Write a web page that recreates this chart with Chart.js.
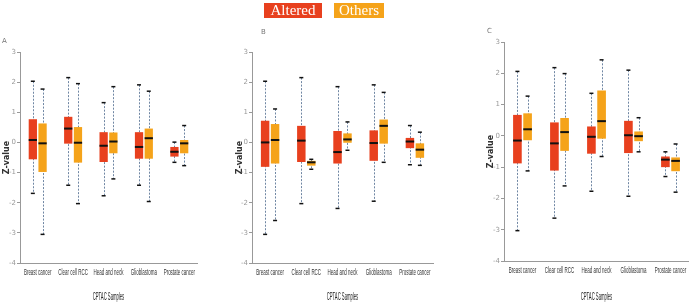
<!DOCTYPE html>
<html>
<head>
<meta charset="utf-8">
<script src="https://cdn.jsdelivr.net/npm/chart.js@4"></script>
<style>
  body { margin: 0; background: #fff; }
  #wrap { position: relative; width: 689px; height: 306px; overflow: hidden; }
  .panel { position: absolute; top: 0; height: 306px; }
  .tag { position: absolute; font: 7px "DejaVu Sans", sans-serif; color: #777; }
  .key { position: absolute; top: 3px; height: 15px; color: #fff; text-align: center;
         font: 15px "Liberation Serif", serif; line-height: 15px; }
</style>
</head>
<body>
<div id="wrap">
  <div class="panel" style="left:0;width:230px"><canvas id="chartA"></canvas></div>
  <div class="panel" style="left:230px;width:229px"><canvas id="chartB"></canvas></div>
  <div class="panel" style="left:459px;width:230px"><canvas id="chartC"></canvas></div>
  <div class="tag" style="left:2px;top:37px">A</div>
  <div class="tag" style="left:261px;top:28px">B</div>
  <div class="tag" style="left:487px;top:27px">C</div>
  <div class="key" style="left:264px;width:58px;background:#e8401e">Altered</div>
  <div class="key" style="left:334px;width:50px;background:#f5a31a">Others</div>
</div>
<script>
// categories + y range
const categories = ['Breast cancer', 'Clear cell RCC', 'Head and neck', 'Glioblastoma', 'Prostate cancer'];
const yTicks = [3, 2, 1, 0, -1, -2, -3, -4];
const xTitle = 'CPTAC Samples';

// each row: [min, q1, median, q3, max]
const alteredA = [
  [-1.69, -0.56, 0.08, 0.77, 2.03],
  [-1.42, -0.04, 0.46, 0.85, 2.15],
  [-1.77, -0.65, -0.11, 0.34, 1.32],
  [-1.42, -0.54, -0.15, 0.34, 1.91],
  [-0.66, -0.47, -0.31, -0.15, 0.01]
];
const othersA = [
  [-3.05, -0.98, -0.03, 0.63, 1.77],
  [-2.03, -0.67, -0.01, 0.51, 1.95],
  [-1.21, -0.36, 0.03, 0.33, 1.85],
  [-1.96, -0.54, 0.14, 0.46, 1.70],
  [-0.77, -0.36, -0.03, 0.08, 0.56]
];
const alteredB = [
  [-3.05, -0.81, 0.00, 0.72, 2.03],
  [-2.03, -0.65, 0.06, 0.55, 2.15],
  [-2.19, -0.70, -0.32, 0.38, 1.85],
  [-1.95, -0.61, -0.02, 0.40, 1.91],
  [-0.74, -0.19, 0.03, 0.15, 0.56]
];
const othersB = [
  [-2.59, -0.70, 0.08, 0.61, 1.11],
  [-0.89, -0.77, -0.66, -0.61, -0.56],
  [-0.26, -0.01, 0.10, 0.30, 0.68],
  [-0.66, -0.04, 0.55, 0.76, 1.66],
  [-0.76, -0.51, -0.24, -0.03, 0.34]
];
const alteredC = [
  [-3.03, -0.88, -0.15, 0.67, 2.06],
  [-2.63, -1.11, -0.24, 0.43, 2.18],
  [-1.77, -0.57, -0.03, 0.30, 1.36],
  [-1.93, -0.55, 0.02, 0.48, 2.10],
  [-1.30, -1.00, -0.76, -0.66, -0.51]
];
const othersC = [
  [-1.12, -0.14, 0.21, 0.72, 1.27],
  [-1.60, -0.48, 0.12, 0.57, 1.99],
  [-0.66, -0.09, 0.47, 1.45, 2.43],
  [-0.51, -0.17, -0.01, 0.14, 0.58],
  [-1.80, -1.13, -0.80, -0.69, -0.26]
];

const RED = '#e8401e';
const ORANGE = '#f5a31a';

// whiskers behind the boxes, medians + caps on top
const boxPlugin = {
  id: 'boxWhiskers',
  beforeDatasetsDraw(chart) {
    const y = chart.scales.y;
    const ctx = chart.ctx;
    chart.data.datasets.forEach((ds, di) => {
      const meta = chart.getDatasetMeta(di);
      ds.stats.forEach((s, i) => {
        const bar = meta.data[i];
        ctx.save();
        ctx.strokeStyle = '#6f86a3';
        ctx.lineWidth = 1;
        ctx.setLineDash([2, 1.5]);
        ctx.beginPath();
        ctx.moveTo(Math.round(bar.x) + 0.5, y.getPixelForValue(s[4]));
        ctx.lineTo(Math.round(bar.x) + 0.5, y.getPixelForValue(s[0]));
        ctx.stroke();
        ctx.restore();
      });
    });
  },
  afterDatasetsDraw(chart) {
    const y = chart.scales.y;
    const ctx = chart.ctx;
    chart.data.datasets.forEach((ds, di) => {
      const meta = chart.getDatasetMeta(di);
      ds.stats.forEach((s, i) => {
        const bar = meta.data[i];
        const half = bar.width / 2;
        ctx.save();
        ctx.strokeStyle = '#111';
        ctx.lineWidth = 1.5;
        [s[0], s[4]].forEach((v) => {
          const py = y.getPixelForValue(v);
          ctx.beginPath();
          ctx.moveTo(bar.x - 2, py);
          ctx.lineTo(bar.x + 2, py);
          ctx.stroke();
        });
        ctx.lineWidth = 2;
        const pm = y.getPixelForValue(s[2]);
        ctx.beginPath();
        ctx.moveTo(bar.x - half, pm);
        ctx.lineTo(bar.x + half, pm);
        ctx.stroke();
        ctx.restore();
      });
    });
  }
};

// the source uses a very condensed face; squeeze the x labels horizontally
function squeezed(ctx, text, x, y, sx) {
  ctx.save();
  ctx.translate(x, y);
  ctx.scale(sx, 1);
  ctx.fillText(text, 0, 0);
  ctx.restore();
}

const xLabelPlugin = {
  id: 'xLabels',
  afterDraw(chart) {
    const ctx = chart.ctx;
    const x = chart.scales.x;
    const area = chart.chartArea;
    ctx.save();
    ctx.textAlign = 'center';
    ctx.textBaseline = 'middle';
    ctx.fillStyle = '#333';
    ctx.font = '9.5px "Liberation Sans", sans-serif';
    categories.forEach((c, i) => squeezed(ctx, c, x.getPixelForValue(i), area.bottom + 9, 0.47));
    ctx.fillStyle = '#222';
    ctx.font = '10px "Liberation Sans", sans-serif';
    squeezed(ctx, xTitle, (area.left + area.right) / 2, 297.5, 0.42);
    ctx.restore();
  }
};

function makePanel(id, altered, others, box) {
  const canvas = document.getElementById(id);
  canvas.width = box.w;
  canvas.height = 306;
  return new Chart(canvas.getContext('2d'), {
    type: 'bar',
    data: {
      labels: categories,
      datasets: [
        { label: 'Altered', stats: altered, data: altered.map((s) => [s[1], s[3]]), backgroundColor: RED },
        { label: 'Others', stats: others, data: others.map((s) => [s[1], s[3]]), backgroundColor: ORANGE }
      ]
    },
    options: {
      responsive: false,
      animation: false,
      categoryPercentage: 0.55,
      barPercentage: 0.85,
      borderWidth: 0,
      borderSkipped: false,
      layout: { padding: { left: box.padL, right: box.padR, top: box.top, bottom: 0 } },
      plugins: { legend: { display: false }, tooltip: { enabled: false } },
      scales: {
        x: {
          afterFit: (s) => { s.height = box.xh; },
          grid: { display: false },
          border: { color: '#999' },
          ticks: { display: false }
        },
        y: {
          min: yTicks[yTicks.length - 1],
          max: yTicks[0],
          afterFit: (s) => { s.width = box.yw; },
          grid: { drawOnChartArea: false, drawTicks: true, tickLength: 3, color: '#999' },
          border: { color: '#999' },
          ticks: { stepSize: 1, color: '#999', font: { family: 'DejaVu Sans', size: 7 }, padding: 1 },
          title: { display: true, text: 'Z-value', color: '#333', font: { family: 'DejaVu Sans', size: 8, weight: 'bold' }, padding: { top: 0, bottom: 0 } }
        }
      }
    },
    plugins: [boxPlugin, xLabelPlugin]
  });
}

makePanel('chartA', alteredA, othersA, { w: 230, padL: 2, padR: 33, yw: 18, top: 52, xh: 43 });
makePanel('chartB', alteredB, othersB, { w: 229, padL: 5, padR: 26, yw: 17, top: 52, xh: 43 });
makePanel('chartC', alteredC, othersC, { w: 230, padL: 27, padR: 0, yw: 18, top: 42, xh: 45 });
</script>
</body>
</html>
